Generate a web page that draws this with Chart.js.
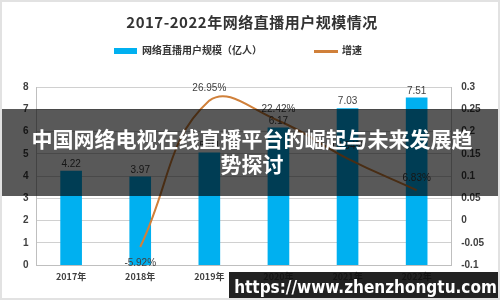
<!DOCTYPE html>
<html><head><meta charset="utf-8">
<script src="https://cdn.jsdelivr.net/npm/chart.js@4.4.1/dist/chart.umd.min.js"></script>
<style>
html,body{margin:0;padding:0;background:#fff;}
#wrap{position:relative;width:500px;height:300px;overflow:hidden;box-sizing:border-box;border:2px solid #e2e2e2;background:#fff;}
canvas{position:absolute;left:0;top:0;}
#title{position:absolute;left:0;width:500px;top:9px;text-align:center;font:bold 15px "Noto Sans CJK SC",serif;color:#333;letter-spacing:0.5px;}
.lg{position:absolute;top:42px;font:bold 10px "Noto Sans CJK SC",sans-serif;color:#333;line-height:12px;}
#banner{position:absolute;left:0;top:107px;width:500px;height:87px;background:rgba(0,0,0,0.65);color:#fff;text-align:center;font:bold 21px "Noto Sans CJK SC",sans-serif;line-height:25px;padding-top:17px;box-sizing:border-box;}
#wm{position:absolute;left:227px;top:270px;width:273px;height:30px;background:rgba(15,15,15,0.92);color:#fff;font:bold 17px "DejaVu Sans Condensed","Liberation Sans",sans-serif;line-height:30px;text-align:center;white-space:nowrap;}
</style></head>
<body>
<div id="wrap">
<canvas id="c" width="500" height="300"></canvas>
<div id="title">2017-2022年网络直播用户规模情况</div>
<div class="lg" style="left:112px;"><span style="display:inline-block;width:23px;height:6px;background:#00B0F0;vertical-align:middle;margin-right:5px;"></span>网络直播用户规模（亿人）</div>
<div class="lg" style="left:312px;"><span style="display:inline-block;width:24px;height:3px;background:#D0803A;vertical-align:middle;margin-right:4px;"></span>增速</div>
<div id="banner">中国网络电视在线直播平台的崛起与未来发展趋<br>势探讨</div>
<div id="wm">https://www.zhenzhongtu.com</div>
</div>
<script>
const categories = ["2017年","2018年","2019年","2020年","2021年","2022年"];
const users = [4.22, 3.97, 5.04, 6.17, 7.03, 7.51];
const growth = [null, -0.0592, 0.2695, 0.2242, 0.1394, 0.0683];
const growthLabels = [null, "-5.92%", "26.95%", "22.42%", "13.94%", "6.83%"];
const leftTicks = [0,1,2,3,4,5,6,7,8];
const rightTicks = [-0.1,-0.05,0,0.05,0.1,0.15,0.2,0.25,0.3];

const labelPlugin = {
  id:'valueLabels',
  afterDatasetsDraw(chart){
    const ctx = chart.ctx;
    ctx.save();
    ctx.font = '10px "Liberation Sans", sans-serif';
    ctx.fillStyle = '#404040';
    ctx.textAlign = 'center';
    const m0 = chart.getDatasetMeta(0);
    ctx.textBaseline = 'bottom';
    m0.data.forEach((el,i)=>{ ctx.fillText(users[i].toFixed(2), el.x, el.y - 2); });
    const m1 = chart.getDatasetMeta(1);
    m1.data.forEach((el,i)=>{
      if (growth[i] === null) return;
      if (growth[i] < 0) { ctx.textBaseline='top'; ctx.fillText(growthLabels[i], el.x, el.y + 11); }
      else { ctx.textBaseline='bottom'; ctx.fillText(growthLabels[i], el.x, el.y - 7); }
    });
    ctx.restore();
  }
};

new Chart(document.getElementById('c'), {
  data: {
    labels: categories,
    datasets: [
      {type:'bar', label:'网络直播用户规模（亿人）', data: users, backgroundColor:'#00B0F0', barThickness:21, yAxisID:'y', order:2},
      {type:'line', label:'增速', data: growth, borderColor:'#D0803A', borderWidth:2, tension:0.45, pointRadius:0, yAxisID:'y1', order:1, spanGaps:false}
    ]
  },
  options: {
    responsive:false, animation:false, devicePixelRatio:1,
    layout:{padding:{top:85, left:13, right:12, bottom:14}},
    plugins:{legend:{display:false}, title:{display:false}, tooltip:{enabled:false}},
    scales:{
      x:{grid:{display:false, drawTicks:false}, border:{color:'#bfbfbf'},
         ticks:{color:'#404040', font:{size:9, weight:'bold', family:'"Noto Sans CJK SC", sans-serif'}, padding:6}},
      y:{position:'left', min:0, max:8, afterBuildTicks(s){s.ticks = leftTicks.map(v=>({value:v}));},
         grid:{color:'#d0d0d0', drawTicks:false}, border:{color:'#bfbfbf'},
         ticks:{color:'#404040', font:{size:10, weight:'bold', family:'"Liberation Sans", sans-serif'}, padding:8}},
      y1:{position:'right', min:-0.1, max:0.3, afterBuildTicks(s){s.ticks = rightTicks.map(v=>({value:v}));},
         grid:{display:false, drawTicks:true, tickLength:4}, border:{color:'#bfbfbf'},
         ticks:{color:'#404040', font:{size:10, weight:'bold', family:'"Liberation Sans", sans-serif'}, padding:6,
           callback:(v)=>String(parseFloat(Number(v).toFixed(2)))}}
    }
  },
  plugins:[labelPlugin]
});
</script>
</body></html>
